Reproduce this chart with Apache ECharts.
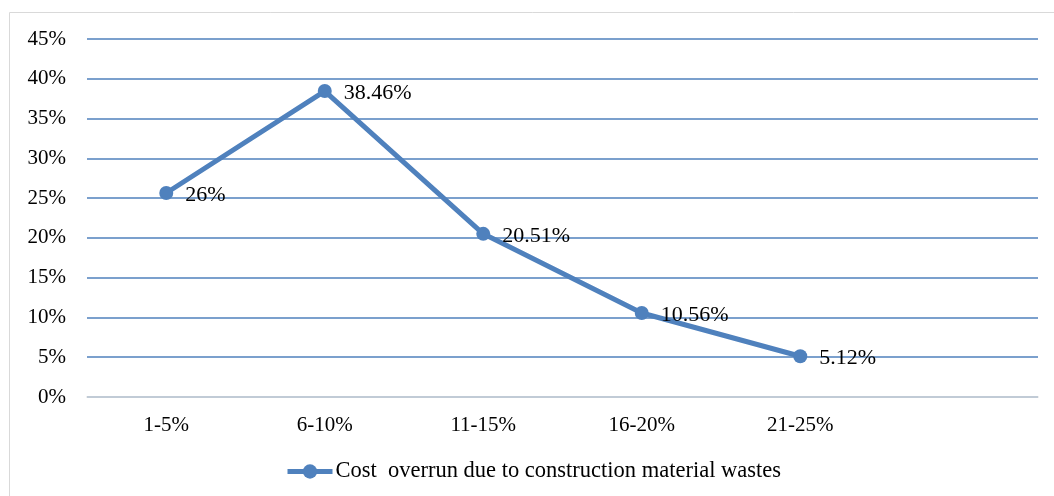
<!DOCTYPE html>
<html>
<head>
<meta charset="utf-8">
<script src="https://cdn.jsdelivr.net/npm/echarts@6/dist/echarts.min.js"></script>
<style>
  html, body { margin: 0; padding: 0; background: #fff; }
  #chart { width: 1054px; height: 496px; }
</style>
</head>
<body>
<div id="chart"></div>
<script>
const categories = ['1-5%', '6-10%', '11-15%', '16-20%', '21-25%', '']
const values = [25.64, 38.46, 20.51, 10.56, 5.12, '-']
const pointLabels = ['26%', '38.46%', '20.51%', '10.56%', '5.12%']
const seriesName = 'Cost  overrun due to construction material wastes'

const blue = '#4f81bd'
const font = '"Liberation Serif", "Times New Roman", serif'

const myChart = echarts.init(document.getElementById('chart'))

const option = {
  animation: false,
  textStyle: { fontFamily: font },
  graphic: [{
    type: 'rect',
    shape: { x: 9.5, y: 12.5, width: 1060, height: 500 },
    style: { fill: 'none', stroke: '#d9d9d9', lineWidth: 1 },
    silent: true
  }],
  grid: { left: 87, right: 16, top: 39, bottom: 99 },
  legend: {
    data: [seriesName],
    left: 285,
    top: 460,
    padding: 0,
    itemWidth: 45,
    itemHeight: 18,
    itemGap: 4,
    lineStyle: { width: 5 },
    textStyle: { fontFamily: font, fontSize: 22.5, color: '#000', padding: [0, 0, 0, -2] }
  },
  xAxis: {
    type: 'category',
    data: categories,
    boundaryGap: true,
    axisLine: { lineStyle: { color: '#d9d9d9', width: 1.5 } },
    axisTick: { show: false },
    axisLabel: { fontFamily: font, fontSize: 21, color: '#000', margin: 18 }
  },
  yAxis: {
    type: 'value',
    min: 0,
    max: 45,
    interval: 5,
    axisLine: { show: false },
    axisTick: { show: false },
    axisLabel: { fontFamily: font, fontSize: 21, color: '#000', margin: 21, formatter: '{value}%' },
    splitLine: { lineStyle: { color: blue, width: 1.5 } }
  },
  series: [{
    name: seriesName,
    type: 'line',
    data: values,
    symbol: 'circle',
    symbolSize: 14,
    lineStyle: { color: blue, width: 5 },
    itemStyle: { color: blue },
    label: {
      show: true,
      position: 'right',
      distance: 12,
      offset: [0, 2],
      fontFamily: font,
      fontSize: 22,
      color: '#000',
      formatter: (p) => pointLabels[p.dataIndex]
    }
  }]
}

option && myChart.setOption(option)
</script>
</body>
</html>
